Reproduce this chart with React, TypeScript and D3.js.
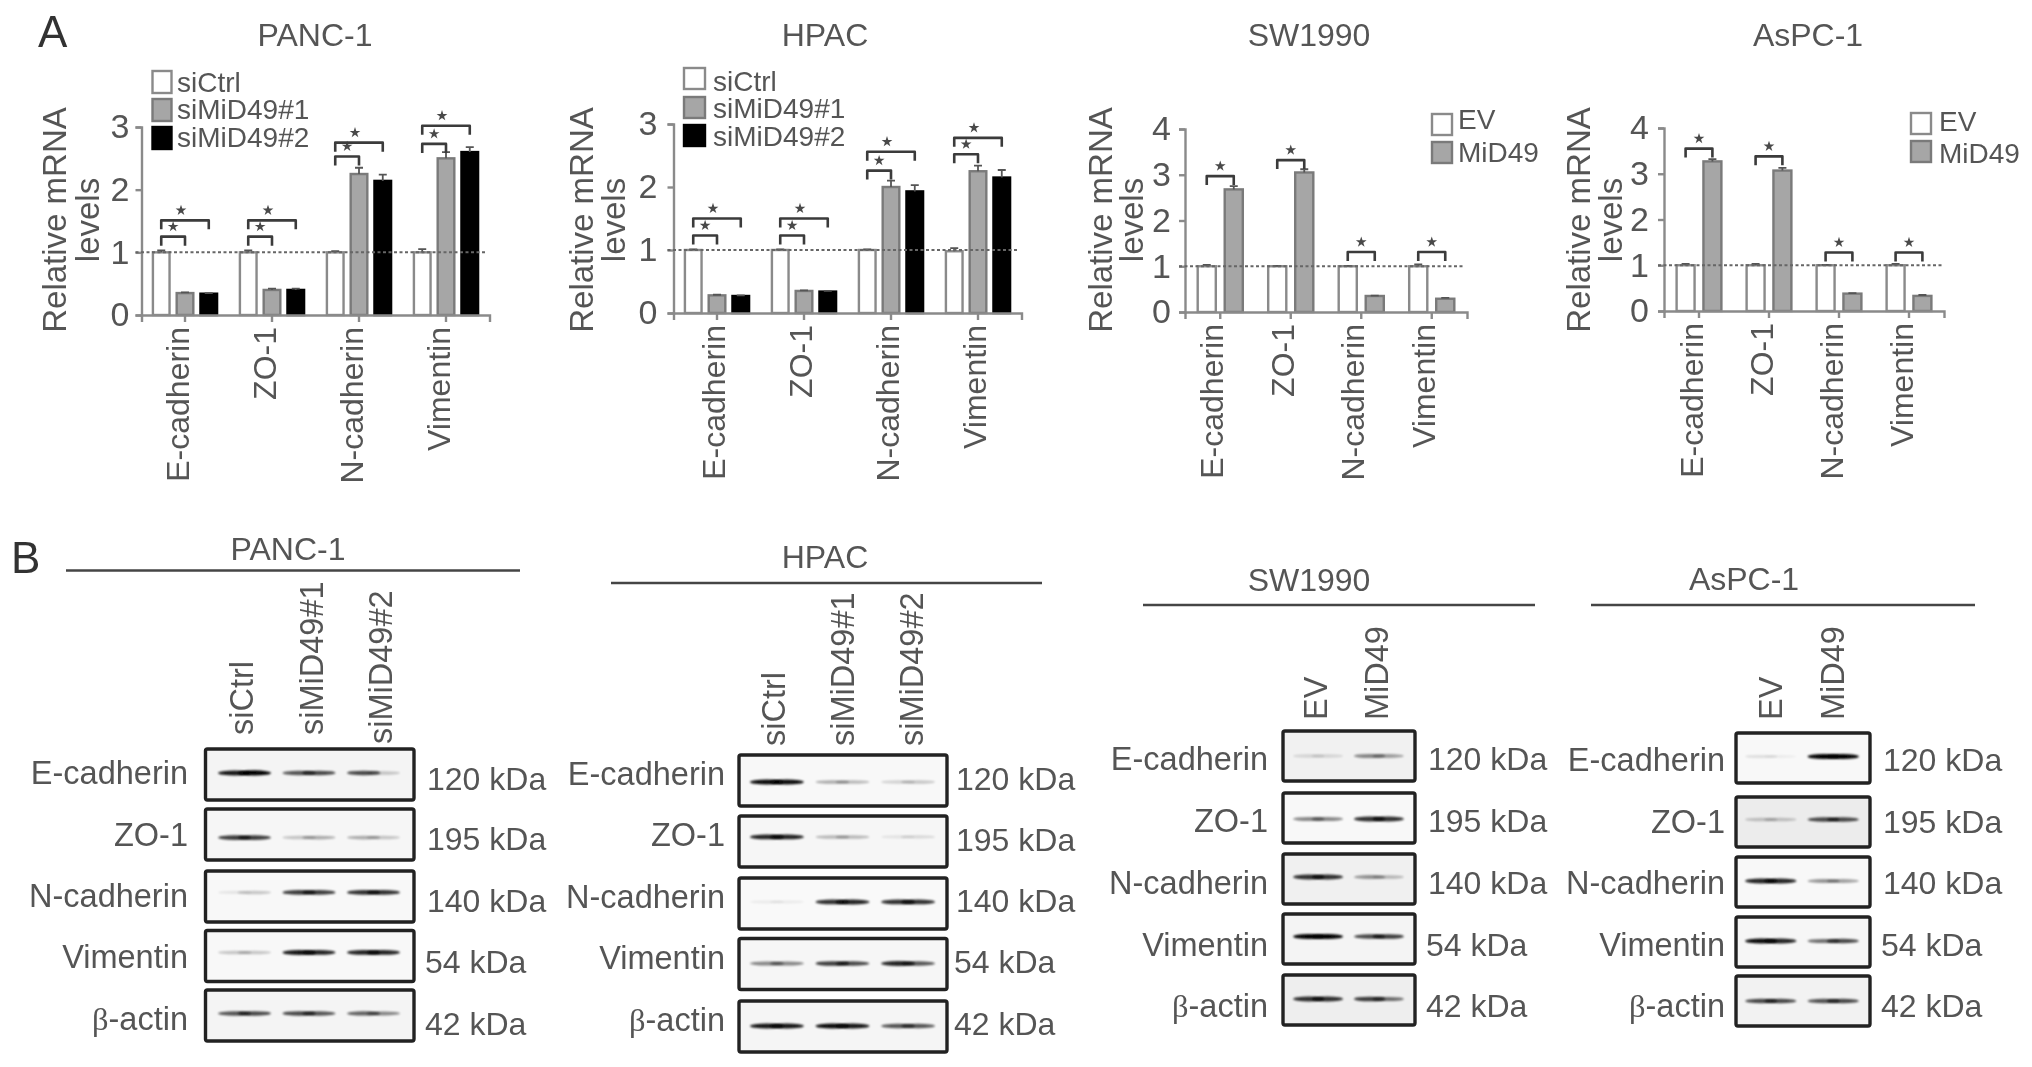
import React, { useEffect, useRef } from "react";
import * as d3 from "d3";

// ---- data ----
const markers = ["E-cadherin", "ZO-1", "N-cadherin", "Vimentin"];
const knockdownSeries = ["siCtrl", "siMiD49#1", "siMiD49#2"];
const overexpSeries = ["EV", "MiD49"];

const pancCtrl = [1, 1, 1, 1];
const pancSi1 = [0.35, 0.4, 2.25, 2.5];
const pancSi2 = [0.34, 0.4, 2.14, 2.6];
const pancCtrlErr = [0.03, 0.03, 0.02, 0.05];
const pancSi1Err = [0.01, 0.02, 0.1, 0.1];
const pancSi2Err = [0.01, 0.02, 0.1, 0.08];
const pancInner = [1.25, 1.25, 2.53, 2.73];
const pancOuter = [1.51, 1.51, 2.75, 3.02];

const hpacCtrl = [1, 1, 1, 0.98];
const hpacSi1 = [0.28, 0.35, 2.0, 2.25];
const hpacSi2 = [0.27, 0.34, 1.93, 2.15];
const hpacCtrlErr = [0.01, 0.01, 0.01, 0.05];
const hpacSi1Err = [0.01, 0.01, 0.1, 0.09];
const hpacSi2Err = [0.01, 0.01, 0.1, 0.12];
const hpacInner = [1.23, 1.23, 2.26, 2.52];
const hpacOuter = [1.5, 1.5, 2.56, 2.78];

const swEv = [1, 1, 1, 1];
const swMid = [2.68, 3.05, 0.35, 0.29];
const swEvErr = [0.03, 0.01, 0.01, 0.04];
const swMidErr = [0.07, 0.07, 0.01, 0.02];
const swBracket = [2.97, 3.32, 1.31, 1.31];

const asEv = [1, 1, 1, 1];
const asMid = [3.27, 3.07, 0.38, 0.33];
const asEvErr = [0.03, 0.03, 0.01, 0.03];
const asMidErr = [0.05, 0.06, 0.01, 0.02];
const asBracket = [3.55, 3.38, 1.28, 1.28];

const blotRows = ["E-cadherin", "ZO-1", "N-cadherin", "Vimentin", "β-actin"];
const blotKda = ["120 kDa", "195 kDa", "140 kDa", "54 kDa", "42 kDa"];

// band darkness, [left half, right half] for every lane of every row
const pancBands = [
  [[0.9, 1], [0.65, 0.7], [0.7, 0.2]],
  [[0.75, 0.75], [0.2, 0.3], [0.3, 0.2]],
  [[0.08, 0.2], [0.75, 0.75], [0.8, 0.8]],
  [[0.2, 0.2], [0.9, 0.85], [0.85, 0.85]],
  [[0.65, 0.7], [0.7, 0.65], [0.6, 0.45]],
];
const hpacBands = [
  [[0.95, 0.95], [0.3, 0.25], [0.15, 0.2]],
  [[0.85, 0.85], [0.25, 0.25], [0.08, 0.12]],
  [[0.06, 0.06], [0.8, 0.85], [0.8, 0.8]],
  [[0.45, 0.45], [0.75, 0.7], [0.85, 0.65]],
  [[0.9, 0.9], [0.95, 0.9], [0.65, 0.65]],
];
const swBands = [
  [[0.12, 0.12], [0.45, 0.35]],
  [[0.45, 0.45], [0.8, 0.8]],
  [[0.8, 0.8], [0.4, 0.25]],
  [[1, 1], [0.7, 0.75]],
  [[0.8, 0.8], [0.75, 0.55]],
];
const asBands = [
  [[0.1, 0.05], [1, 1]],
  [[0.2, 0.2], [0.7, 0.7]],
  [[0.85, 0.85], [0.4, 0.35]],
  [[0.95, 0.85], [0.55, 0.7]],
  [[0.7, 0.7], [0.65, 0.7]],
];

const FONT = "'Liberation Sans', Arial, sans-serif";
const INK = "#555";
const fills = ["#fff", "#a6a6a6", "#000"];
const strokes = ["#8a8a8a", "#7a7a7a", "#000"];

type Sel = d3.Selection<SVGGElement, unknown, null, undefined>;

function label(g: Sel, x: number, y: number, text: string, size: number, anchor = "start", rotate = false) {
  return g.append("text")
    .attr("transform", `translate(${x},${y})${rotate ? " rotate(-90)" : ""}`)
    .attr("text-anchor", anchor)
    .attr("font-size", size)
    .attr("fill", INK)
    .text(text);
}

type BarOpts = {
  title: string; titleX: number;
  left: number; step: number; y0: number; yTop: number; yMax: number;
  titleLines: [number, number]; tickPad: number; labelShift: number;
  series: string[]; values: number[][]; errors: number[][];
  brackets: { to: number; levels: number[] }[];
  legend: { x: number; tops: number[]; size: [number, number]; textX: number; baselines: number[] };
  padIn: number; padOut: number;
};

function barPanel(root: Sel, o: BarOpts) {
  const g = root.append("g");
  const x = d3.scaleBand().domain(markers).range([o.left, o.left + o.step * 4]).padding(0);
  const sub = d3.scaleBand().domain(o.series).range([0, o.step]).paddingInner(o.padIn).paddingOuter(o.padOut);
  const y = d3.scaleLinear().domain([0, o.yMax]).range([o.y0, o.yTop]);

  label(g, o.titleX, 46, o.title, 32, "middle");
  label(g, o.titleLines[0], 220, "Relative mRNA", 33, "middle", true);
  label(g, o.titleLines[1], 220, "levels", 33, "middle", true);

  // bars, drawn before the axes
  o.series.forEach((name, s) => {
    g.append("g").selectAll("rect").data(o.values[s]).join("rect")
      .attr("x", (_, i) => x(markers[i])! + sub(name)!)
      .attr("y", (d) => y(d))
      .attr("width", sub.bandwidth())
      .attr("height", (d) => o.y0 - y(d))
      .attr("fill", fills[s])
      .attr("stroke", strokes[s])
      .attr("stroke-width", 2.4);
    g.append("g").selectAll("path").data(o.errors[s]).join("path")
      .attr("d", (d, i) => {
        const cx = x(markers[i])! + sub(name)! + sub.bandwidth() / 2;
        const path = d3.path();
        path.moveTo(cx, y(o.values[s][i]));
        path.lineTo(cx, y(o.values[s][i] + d));
        path.moveTo(cx - 4, y(o.values[s][i] + d));
        path.lineTo(cx + 4, y(o.values[s][i] + d));
        return path.toString();
      })
      .attr("fill", "none")
      .attr("stroke", "#555")
      .attr("stroke-width", 1.8);
  });

  const yAxis = g.append("g").attr("transform", `translate(${o.left},0)`)
    .call(d3.axisLeft(y).ticks(o.yMax).tickSizeOuter(0).tickSize(6).tickPadding(o.tickPad));
  const xAxis = g.append("g").attr("transform", `translate(0,${o.y0})`)
    .call(d3.axisBottom(x).tickSizeOuter(0).tickSize(7));
  [yAxis, xAxis].forEach((a) => {
    a.selectAll("path,line").attr("stroke", "#8a8a8a").attr("stroke-width", 2.4);
    a.selectAll("text").attr("font-size", 32).attr("font-family", FONT).attr("fill", INK);
  });
  yAxis.selectAll("text").attr("font-size", 34);
  xAxis.selectAll("text")
    .attr("x", 0).attr("y", 0).attr("dy", 0)
    .attr("text-anchor", "end")
    .attr("transform", `translate(${o.labelShift},12) rotate(-90)`);

  // dotted line at 1
  g.append("line")
    .attr("x1", o.left - 6).attr("x2", o.left + o.step * 4 - 2)
    .attr("y1", y(1)).attr("y2", y(1))
    .attr("stroke", "#666").attr("stroke-width", 2).attr("stroke-dasharray", "3 2.5");

  // significance brackets
  const star = d3.symbol(d3.symbolStar, 36);
  o.brackets.forEach((b) => {
    b.levels.forEach((lvl, i) => {
      const bar = (k: number) => x(markers[i])! + sub(o.series[k])! + sub.bandwidth() / 2;
      const x1 = bar(0), x2 = bar(b.to), yb = y(lvl);
      const path = d3.path();
      path.moveTo(x1, yb + 9);
      path.lineTo(x1, yb);
      path.lineTo(x2, yb);
      path.lineTo(x2, yb + 9);
      g.append("path").attr("d", path.toString()).attr("fill", "none")
        .attr("stroke", "#3a3a3a").attr("stroke-width", 2.6).attr("stroke-linejoin", "round");
      g.append("path").attr("d", star())
        .attr("transform", `translate(${(x1 + x2) / 2 - (b.to === 2 ? 4 : 0)},${yb - 10})`)
        .attr("fill", "#4a4a4a");
    });
  });

  // legend
  o.series.forEach((name, s) => {
    g.append("rect")
      .attr("x", o.legend.x).attr("y", o.legend.tops[s])
      .attr("width", o.legend.size[0]).attr("height", o.legend.size[1])
      .attr("fill", fills[s]).attr("stroke", strokes[s]).attr("stroke-width", 2.4);
    label(g, o.legend.textX, o.legend.baselines[s], name, 28);
  });
}

type BlotOpts = {
  title: string; titleX: number; titleY: number; hr: [number, number, number];
  box: [number, number]; tops: number[]; boxH: number;
  rowRight: number; baselines: number[]; kdaX: number; kdaBase: number[];
  lanes: string[]; laneRange: [number, number]; laneLabel: [number, number]; laneBottom: number[];
  bandY: number[]; bands: number[][][]; shades: string[];
};

function blotPanel(root: Sel, o: BlotOpts) {
  const g = root.append("g");
  label(g, o.titleX, o.titleY, o.title, 32, "middle");
  g.append("line").attr("x1", o.hr[0]).attr("x2", o.hr[1]).attr("y1", o.hr[2]).attr("y2", o.hr[2])
    .attr("stroke", "#444").attr("stroke-width", 2.6);

  const lane = d3.scaleBand().domain(o.lanes).range(o.laneRange).paddingInner(0.24);
  const laneText = d3.scalePoint().domain(o.lanes).range(o.laneLabel);
  o.lanes.forEach((name, i) => label(g, laneText(name)!, o.laneBottom[i], name, 32.5, "start", true));

  blotRows.forEach((row, r) => {
    const top = o.tops[r];
    g.append("rect")
      .attr("x", o.box[0]).attr("y", top)
      .attr("width", o.box[1] - o.box[0]).attr("height", o.boxH)
      .attr("rx", 2).attr("fill", o.shades[r]).attr("stroke", "#222").attr("stroke-width", 3.4);

    const by = top + o.boxH * o.bandY[r];
    o.lanes.forEach((name, l) => {
      const w = lane.bandwidth();
      const [a, b] = o.bands[r][l];
      [a, b].forEach((op, side) => {
        g.append("ellipse")
          .attr("cx", lane(name)! + w * (side === 0 ? 0.3 : 0.7))
          .attr("cy", by)
          .attr("rx", w * 0.34).attr("ry", 1.5 + op * 1.1)
          .attr("fill", "#000").attr("opacity", op)
          .attr("filter", "url(#band)");
      });
    });

    const t = g.append("text")
      .attr("x", o.rowRight).attr("y", o.baselines[r])
      .attr("text-anchor", "end").attr("font-size", 32.5).attr("fill", INK);
    if (row.startsWith("β")) {
      t.append("tspan").attr("font-family", "'Liberation Serif', serif").text("β");
      t.append("tspan").text(row.slice(1));
    } else t.text(row);

    label(g, o.kdaX - (r >= 3 ? 2 : 0), o.kdaBase[r], blotKda[r], 32);
  });
}

export default function App() {
  const ref = useRef<SVGSVGElement | null>(null);

  useEffect(() => {
    if (!ref.current) return;
    const svg = d3.select(ref.current);
    svg.selectAll("*").remove();

    const defs = svg.append("defs");
    defs.append("filter").attr("id", "band").attr("x", "-30%").attr("y", "-200%").attr("width", "160%").attr("height", "500%")
      .append("feGaussianBlur").attr("stdDeviation", 1.3);
    defs.append("filter").attr("id", "soft")
      .attr("filterUnits", "userSpaceOnUse").attr("x", 0).attr("y", 0).attr("width", 2032).attr("height", 1067)
      .append("feGaussianBlur").attr("stdDeviation", 0.6);

    const root = svg.append("g").attr("font-family", FONT).attr("filter", "url(#soft)") as unknown as Sel;

    root.append("text").attr("x", 38).attr("y", 47).attr("font-size", 44).attr("fill", "#333").text("A");
    root.append("text").attr("x", 11).attr("y", 573).attr("font-size", 44).attr("fill", "#333").text("B");

    barPanel(root, {
      title: "PANC-1", titleX: 315, left: 141.5, step: 87, y0: 315, yTop: 127, yMax: 3,
      titleLines: [66, 99], tickPad: 6, labelShift: 4,
      series: knockdownSeries, values: [pancCtrl, pancSi1, pancSi2], errors: [pancCtrlErr, pancSi1Err, pancSi2Err],
      brackets: [{ to: 1, levels: pancInner }, { to: 2, levels: pancOuter }],
      legend: { x: 152.5, tops: [71, 99, 127], size: [19, 22], textX: 177, baselines: [92, 119, 147] },
      padIn: 0.3, padOut: 0.48,
    });
    barPanel(root, {
      title: "HPAC", titleX: 825, left: 673.5, step: 87, y0: 313, yTop: 124, yMax: 3,
      titleLines: [593, 625], tickPad: 10, labelShift: 8,
      series: knockdownSeries, values: [hpacCtrl, hpacSi1, hpacSi2], errors: [hpacCtrlErr, hpacSi1Err, hpacSi2Err],
      brackets: [{ to: 1, levels: hpacInner }, { to: 2, levels: hpacOuter }],
      legend: { x: 684, tops: [68, 97, 125], size: [21, 21], textX: 713, baselines: [91, 118, 146] },
      padIn: 0.3, padOut: 0.48,
    });
    barPanel(root, {
      title: "SW1990", titleX: 1309, left: 1185, step: 70.5, y0: 312, yTop: 129, yMax: 4,
      titleLines: [1112, 1143], tickPad: 8, labelShift: 3,
      series: overexpSeries, values: [swEv, swMid], errors: [swEvErr, swMidErr],
      brackets: [{ to: 1, levels: swBracket }],
      legend: { x: 1432, tops: [114, 142], size: [20, 21], textX: 1458, baselines: [129, 162] },
      padIn: 0.33, padOut: 0.47,
    });
    barPanel(root, {
      title: "AsPC-1", titleX: 1808, left: 1664, step: 70, y0: 311, yTop: 128, yMax: 4,
      titleLines: [1590, 1622], tickPad: 9, labelShift: 4,
      series: overexpSeries, values: [asEv, asMid], errors: [asEvErr, asMidErr],
      brackets: [{ to: 1, levels: asBracket }],
      legend: { x: 1911, tops: [113, 141], size: [20, 21], textX: 1939, baselines: [131, 163] },
      padIn: 0.33, padOut: 0.47,
    });

    blotPanel(root, {
      title: "PANC-1", titleX: 288, titleY: 560, hr: [66, 520, 570.5],
      box: [205.5, 414], tops: [749, 809, 871, 930.5, 990], boxH: 51,
      rowRight: 188, baselines: [783.5, 846, 907, 968, 1029.5], kdaX: 427, kdaBase: [789.6, 850, 912, 973, 1035],
      lanes: knockdownSeries, laneRange: [220, 398], laneLabel: [253, 392], laneBottom: [735, 735, 744],
      bandY: [0.47, 0.56, 0.42, 0.43, 0.46], bands: pancBands,
      shades: ["#f4f4f4", "#f6f6f6", "#f8f8f8", "#f8f8f8", "#f4f4f4"],
    });
    blotPanel(root, {
      title: "HPAC", titleX: 825, titleY: 568, hr: [611, 1042, 583],
      box: [739, 947], tops: [755, 816, 878, 938.5, 1001], boxH: 51,
      rowRight: 725, baselines: [785, 846, 908, 969, 1031], kdaX: 956, kdaBase: [790, 851, 912, 973, 1035],
      lanes: knockdownSeries, laneRange: [752, 933], laneLabel: [785, 923], laneBottom: [746, 746, 746],
      bandY: [0.53, 0.41, 0.47, 0.49, 0.49], bands: hpacBands,
      shades: ["#f8f8f8", "#f6f6f6", "#f9f9f9", "#f6f6f6", "#f5f5f5"],
    });
    blotPanel(root, {
      title: "SW1990", titleX: 1309, titleY: 591, hr: [1143, 1535, 605],
      box: [1283, 1415], tops: [731, 793, 854, 914, 975], boxH: 50,
      rowRight: 1268, baselines: [770, 832, 894, 956, 1017], kdaX: 1428, kdaBase: [770, 832, 894, 956, 1017],
      lanes: overexpSeries, laneRange: [1295, 1402], laneLabel: [1327, 1388], laneBottom: [720, 720],
      bandY: [0.5, 0.52, 0.46, 0.45, 0.48], bands: swBands,
      shades: ["#f1f1f1", "#f8f8f8", "#f0f0f0", "#f4f4f4", "#eeeeee"],
    });
    blotPanel(root, {
      title: "AsPC-1", titleX: 1744, titleY: 590, hr: [1591, 1975, 605],
      box: [1736, 1870], tops: [733, 797, 857, 917, 976], boxH: 50,
      rowRight: 1725, baselines: [771, 833, 894, 956, 1017], kdaX: 1883, kdaBase: [771, 833, 894, 956, 1017],
      lanes: overexpSeries, laneRange: [1747, 1857], laneLabel: [1782, 1844], laneBottom: [720, 720],
      bandY: [0.47, 0.45, 0.48, 0.48, 0.5], bands: asBands,
      shades: ["#f8f8f8", "#ececec", "#f8f8f8", "#f6f6f6", "#f2f2f2"],
    });
  }, []);

  return (
    <svg
      ref={ref}
      width={2032}
      height={1067}
      style={{ position: "absolute", left: 0, top: 0, background: "#fff" }}
    />
  );
}
